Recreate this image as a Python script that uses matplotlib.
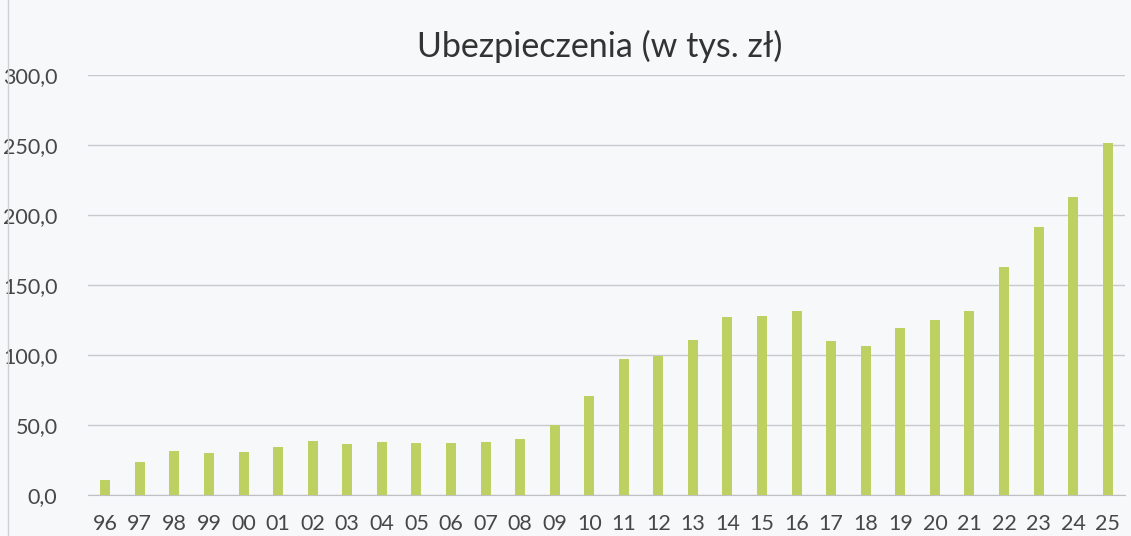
import matplotlib
matplotlib.use("Agg")
import matplotlib.pyplot as plt
import numpy as np

years = ["96", "97", "98", "99", "00", "01", "02", "03", "04", "05",
         "06", "07", "08", "09", "10", "11", "12", "13", "14", "15",
         "16", "17", "18", "19", "20", "21", "22", "23", "24", "25"]
values = [10.7, 23.8, 31.4, 30.2, 30.5, 34.0, 38.6, 36.2, 38.1, 37.3,
          37.3, 37.8, 39.9, 50.1, 70.8, 96.9, 99.3, 110.7, 127.1, 127.6,
          131.4, 110.2, 106.7, 119.0, 124.8, 131.7, 163.1, 191.2, 212.6, 251.7]
yticks = [0, 50, 100, 150, 200, 250, 300]
title = "Ubezpieczenia (w tys. zł)"

plt.rcParams["font.family"] = ["Lato", "DejaVu Sans"]

fig = plt.figure(figsize=(11.31, 5.36), dpi=100)
fig.patch.set_facecolor("#f7f8fa")
ax = fig.add_axes([88 / 1131, 41 / 536, (1125 - 88) / 1131, 420 / 536])
ax.set_facecolor("#f7f8fa")

x = np.arange(len(years))
ax.bar(x, values, width=0.29, color="#bdd061", zorder=3)

ax.set_xlim(-0.5, len(years) - 0.5)
ax.set_ylim(0, 300)
ax.set_yticks(yticks)
ax.set_yticklabels([f"{v:.1f}".replace(".", ",") for v in yticks])
ax.set_xticks(x)
ax.set_xticklabels(years)
ax.tick_params(axis="both", length=0, labelsize=15.5, colors="#474747")
ax.tick_params(axis="y", pad=22)
ax.tick_params(axis="x", pad=14)
ax.grid(axis="y", color="#c9c9cd", linewidth=1.0, zorder=0)
for s in ("top", "right", "left"):
    ax.spines[s].set_visible(False)
ax.spines["bottom"].set_color("#c0c0c4")

fig.text(600 / 1131, 1 - 46 / 536, title, ha="center", va="center",
         fontsize=24.5, color="#333333")
fig.add_artist(plt.Line2D([8 / 1131, 8 / 1131], [0, 1], color="#d0d0d4", lw=1))

fig.savefig("out.png", dpi=100, facecolor=fig.get_facecolor())
